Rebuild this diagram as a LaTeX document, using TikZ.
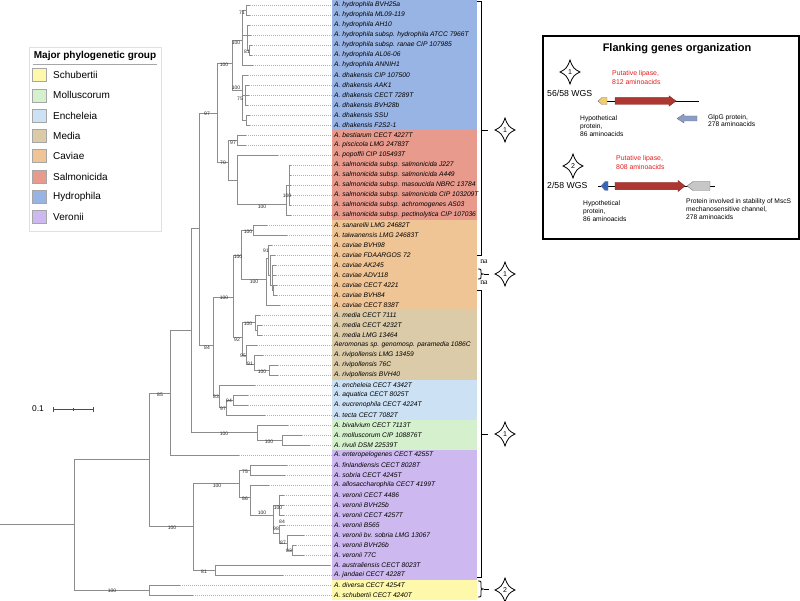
\documentclass[tikz,border=0pt]{standalone}
\usepackage{fontspec}
\setmainfont{Liberation Sans}
\newfontfamily\nafont{Liberation Serif}
\definecolor{hyd}{RGB}{152,180,228}
\definecolor{sal}{RGB}{232,154,140}
\definecolor{cav}{RGB}{240,197,150}
\definecolor{med}{RGB}{219,203,168}
\definecolor{enc}{RGB}{205,225,245}
\definecolor{mol}{RGB}{212,240,204}
\definecolor{ver}{RGB}{205,185,240}
\definecolor{sch}{RGB}{253,248,170}
\definecolor{genred}{RGB}{175,55,50}
\definecolor{genyel}{RGB}{240,205,110}
\definecolor{genglp}{RGB}{140,156,200}
\definecolor{genblu}{RGB}{55,100,190}
\definecolor{txtred}{RGB}{225,30,30}
\tikzset{pics/fourstar/.style={code={
  \draw[line width=0.8pt, fill=white] (0,-12) .. controls (2.5,-4.5) and (4.5,-2.5) .. (10,0) .. controls (4.5,2.5) and (2.5,4.5) .. (0,12) .. controls (-2.5,4.5) and (-4.5,2.5) .. (-10,0) .. controls (-4.5,-2.5) and (-2.5,-4.5) .. cycle;
  \node[font=\fontsize{7}{7}\selectfont, inner sep=0pt] at (0,0) {#1};
}}}
\begin{document}
\begin{tikzpicture}[x=1pt,y=-1pt,
  tree/.style={draw=black!45, line width=0.7pt},
  lead/.style={draw=black!30, line width=0.5pt, dash pattern=on 0.5pt off 1.5pt},
  taxon/.style={anchor=west, inner sep=0pt, font=\fontsize{6.7}{7}\selectfont\itshape},
  bs/.style={inner sep=0pt, font=\fontsize{5}{5}\selectfont, text=black!85},
  brk/.style={draw=black, line width=0.8pt},
  swatch/.style={draw=black!35, minimum width=14pt, minimum height=13pt, inner sep=0pt},
  legtext/.style={anchor=west, inner sep=0pt, font=\fontsize{10}{12}\selectfont},
  boxtxt/.style={anchor=west, align=left, inner sep=0pt, font=\fontsize{6.7}{8}\selectfont},
  redtxt/.style={anchor=west, align=left, inner sep=0pt, text=txtred, font=\fontsize{6.9}{9}\selectfont},
  wgs/.style={anchor=west, inner sep=0pt, font=\fontsize{8.7}{10}\selectfont},
  natxt/.style={inner sep=0pt, font=\nafont\fontsize{7.8}{8}\selectfont},
  gene/.style={line width=0.4pt}
]
\useasboundingbox (0,0) rectangle (800,601);

% ---------- leaf tips ----------
\foreach \x [count=\i from 0] in {250,250,250,251,252,252,253,248,249,249,248,250,250,246,246,278,291,291,291,291,291,291,267,287,272,275,276,276,277,277,280,260,262,262,257,263,278,278,255,248,248,265,288,302,310,239,287,285,269,284,284,284,285,304,296,304,330,283,180,193}
  {\coordinate (L\i) at (\x,{5+10*\i});
   \coordinate (G\i) at (332,{5+10*\i});}

% ---------- internal nodes ----------
\foreach \n/\x/\y in {R0/0/524,R/74/524,A/149/459,S/149/590,B/170/393,V/193/526,C/191/330,D/199/228,M/257/432,E/217/113,F/213/345,Hy/232/63,Sa/228/162,H/242/40,Dh/242/90,Ha/246/10,Hb/247/35,Hc/249/50,Dd/245/95,De/246/120,Sb/237/140,Sc/237/180,Sd/286/204,Se/289/185,G/233/297,En/219/395,Ca/241/255,Me/242/337,Cs/253/230,Cc/266/279,Cv/268/258,Cw/270/275,Cx/272/285,Cy/273/290,Mm/255/322,Mn/257/330,Mr/246/355,Mq/254/364,Mp/269/370,Eb/226/407,Ec/233/400,Mo/282/440,Vb/239/483,Vj/215/570,Vf/250/470,Vg/250/497,Vh/273/515,Vm/279/505,Vn/279/533,Vo/287/543,Vp/292/550}
  \coordinate (\n) at (\x,\y);

% ---------- leader dots ----------
\foreach \i in {0,...,59} \draw[lead] (L\i) -- (G\i);

% ---------- branches ----------
\foreach \p/\c in {R0/R,R/A,R/S,S/L58,S/L59,A/B,A/V,B/C,B/L45,C/D,C/M,D/E,D/F,E/Hy,E/Sa,Hy/H,Hy/Dh,H/Ha,H/Hb,H/L6,Ha/L0,Ha/L1,Hb/L2,Hb/L3,Hb/Hc,Hc/L4,Hc/L5,Dh/L7,Dh/Dd,Dh/De,Dd/L8,Dd/L9,Dd/L10,De/L11,De/L12,Sa/Sb,Sa/Sc,Sb/L13,Sb/L14,Sc/L15,Sc/Sd,Sd/Se,Sd/L21,Se/L16,Se/L17,Se/L18,Se/L19,Se/L20,F/G,F/En,G/Ca,G/Me,Ca/Cs,Ca/Cc,Cs/L22,Cs/L23,Cc/Cv,Cc/L30,Cv/L24,Cv/Cw,Cw/L25,Cw/Cx,Cx/L26,Cx/L27,Cx/Cy,Cy/L28,Cy/L29,Me/Mm,Me/Mr,Mm/L31,Mm/Mn,Mn/L32,Mn/L33,Mr/L34,Mr/Mq,Mq/L35,Mq/Mp,Mp/L36,Mp/L37,En/L38,En/Eb,Eb/Ec,Eb/L41,Ec/L39,Ec/L40,M/L42,M/Mo,Mo/L43,Mo/L44,V/Vb,V/Vj,Vj/L56,Vj/L57,Vb/Vf,Vb/Vg,Vf/L46,Vf/L47,Vg/L48,Vg/Vh,Vh/Vm,Vh/Vn,Vm/L49,Vm/L50,Vm/L51,Vn/L52,Vn/Vo,Vo/L53,Vo/Vp,Vp/L54,Vp/L55}
  \draw[tree] (\p) |- (\c);

% ---------- bootstrap values ----------
\foreach \v/\x/\y [count=\k] in {71/242/13,81/247/52,100/236/43,100/224/65,100/236/88,75/240/99,97/207/114,97/233/143,70/223/163,100/287/196,100/262/207,100/248/232,100/238/257,91/266/251,100/254/282,100/224/298,100/248/324,92/237/340,95/243/356,91/250/364,100/262/372,84/207/348,85/160/395,83/216/397,94/229/401,97/223/409,100/224/434,100/269/442,75/245/472,100/217/486,86/245/499,100/262/513,100/278/508,84/282/522,98/276/529,87/283/543,83/289/551,100/172/528,81/204/572,100/112/591}
  \node[bs] (bs\k) at (\x,\y) {\v};

% ---------- colour bands ----------
\fill[hyd] (332,0) rectangle (477,130);
\fill[sal] (332,130) rectangle (477,220);
\fill[cav] (332,220) rectangle (477,310);
\fill[med] (332,310) rectangle (477,380);
\fill[enc] (332,380) rectangle (477,420);
\fill[mol] (332,420) rectangle (477,450);
\fill[ver] (332,450) rectangle (477,580);
\fill[sch] (332,580) rectangle (477,600);

% ---------- taxa ----------
\foreach \t [count=\i from 0] in {
{A. hydrophila BVH25a},{A. hydrophila ML09-119},{A. hydrophila AH10},{A. hydrophila subsp. hydrophila ATCC 7966T},{A. hydrophila subsp. ranae CIP 107985},{A. hydrophila AL06-06},{A. hydrophila ANNIH1},
{A. dhakensis CIP 107500},{A. dhakensis AAK1},{A. dhakensis CECT 7289T},{A. dhakensis BVH28b},{A. dhakensis SSU},{A. dhakensis F2S2-1},
{A. bestiarum CECT 4227T},{A. piscicola LMG 24783T},{A. popoffii CIP 105493T},{A. salmonicida subsp. salmonicida J227},{A. salmonicida subsp. salmonicida A449},{A. salmonicida subsp. masoucida NBRC 13784},{A. salmonicida subsp. salmonicida CIP 103209T},{A. salmonicida subsp. achromogenes AS03},{A. salmonicida subsp. pectinolytica CIP 107036},
{A. sanarellii LMG 24682T},{A. taiwanensis LMG 24683T},{A. caviae BVH98},{A. caviae FDAARGOS 72},{A. caviae AK245},{A. caviae ADV118},{A. caviae CECT 4221},{A. caviae BVH84},{A. caviae CECT 838T},
{A. media CECT 7111},{A. media CECT 4232T},{A. media LMG 13464},{Aeromonas sp. genomosp. paramedia 1086C},{A. rivipollensis LMG 13459},{A. rivipollensis 76C},{A. rivipollensis BVH40},
{A. encheleia CECT 4342T},{A. aquatica CECT 8025T},{A. eucrenophila CECT 4224T},{A. tecta CECT 7082T},
{A. bivalvium CECT 7113T},{A. molluscorum CIP 108876T},{A. rivuli DSM 22539T},
{A. enteropelogenes CECT 4255T},{A. finlandiensis CECT 8028T},{A. sobria CECT 4245T},{A. allosaccharophila CECT 4199T},{A. veronii CECT 4486},{A. veronii BVH25b},{A. veronii CECT 4257T},{A. veronii B565},{A. veronii bv. sobria LMG 13067},{A. veronii BVH26b},{A. veronii 77C},{A. australiensis CECT 8023T},{A. jandaei CECT 4228T},
{A. diversa CECT 4254T},{A. schubertii CECT 4240T}}
  \node[taxon] (T\i) at (334,{5+10*\i}) {\t};

% ---------- brackets ----------
\draw[brk] (477,1) -- (481,1) -- (481,255) -- (477,255);
\draw[brk] (481,130) -- (488,130);
\node[natxt] (na1) at (484,262) {na};
\draw[brk] (478,269) .. controls (481,269) .. (481,271) -- (481,272.5) .. controls (481,274) .. (484,274) .. controls (481,274) .. (481,275.5) -- (481,277) .. controls (481,279) .. (478,279);
\draw[brk] (484,274) -- (489,274);
\node[natxt] (na2) at (484,283) {na};
\draw[brk] (477,290) -- (481,290) -- (481,577) -- (477,577);
\draw[brk] (481,434) -- (488,434);
\draw[brk] (478,581) .. controls (481,581) .. (481,583) -- (481,587) .. controls (481,589) .. (484,589) .. controls (481,589) .. (481,591) -- (481,595) .. controls (481,597) .. (478,597);
\draw[brk] (484,589) -- (489,589);
\pic at (505,130) {fourstar=1};
\pic at (505,274) {fourstar=1};
\pic at (505,434) {fourstar=1};
\pic at (505,590) {fourstar=2};

% ---------- legend ----------
\draw[black!12] (29,47) rectangle (161,231);
\node[inner sep=0pt, font=\fontsize{10}{12}\selectfont\bfseries] (lgt) at (95,56) {Major phylogenetic group};
\draw[black!35] (33,64) -- (157,64);
\foreach \c/\n [count=\k from 0] in {sch/Schubertii,mol/Molluscorum,enc/Encheleia,med/Media,cav/Caviae,sal/Salmonicida,hyd/Hydrophila,ver/Veronii}
  {\node[swatch, fill=\c] (sw\k) at (39.5,{75+20.3*\k}) {};
   \node[legtext] (lt\k) at (53,{75+20.3*\k}) {\n};}

% ---------- scale bar ----------
\node[inner sep=0pt, font=\fontsize{8.4}{9}\selectfont] (sc) at (38,409) {0.1};
\coordinate (sb1) at (53,409); \coordinate (sb2) at (93,409);
\draw[black!70, line width=0.8pt] (sb1) -- (sb2);
\draw[black!70, line width=0.8pt] (53,406.5) -- (53,411.5) (93,406.5) -- (93,411.5) (73,407.5) -- (73,410.5);

% ---------- flanking genes box ----------
\draw[line width=1.2pt] (543,36) rectangle (799,239);
\node[inner sep=0pt, font=\fontsize{11}{13}\selectfont\bfseries] (ttl) at (677,49) {Flanking genes organization};
\pic at (570,72) {fourstar=1};
\node[wgs] (w1) at (547,93) {56/58 WGS};
\node[redtxt] (r1) at (612,77.5) {Putative lipase,\\812 aminoacids};
\draw[line width=0.6pt] (598,101) -- (699,101);
\filldraw[gene, fill=genyel, draw=black!50] (598,101) -- (602,97.5) -- (607,97.5) -- (607,104.5) -- (602,104.5) -- cycle;
\filldraw[gene, fill=genred, draw=genred!70!black] (615,97.7) -- (669,97.7) -- (669,95.8) -- (676,101) -- (669,106.2) -- (669,104.3) -- (615,104.3) -- cycle;
\filldraw[gene, fill=genglp, draw=black!55] (677,118.5) -- (684,114) -- (684,116) -- (697,116) -- (697,121) -- (684,121) -- (684,123) -- cycle;
\node[boxtxt] (h1) at (580,126) {Hypothetical\\protein,\\86 aminoacids};
\node[boxtxt, font=\fontsize{6.7}{7.5}\selectfont] (g1) at (708,120.5) {GlpG protein,\\278 aminoacids};
\pic at (573,166) {fourstar=2};
\node[wgs] (w2) at (547,185) {2/58 WGS};
\node[redtxt] (r2) at (616,162.5) {Putative lipase,\\808 aminoacids};
\draw[line width=0.6pt] (598,186) -- (715,186);
\filldraw[gene, fill=genblu, draw=black!50] (601,186) -- (605,181.5) -- (608,181.5) -- (608,190.5) -- (605,190.5) -- cycle;
\filldraw[gene, fill=genred, draw=genred!70!black] (615,182.3) -- (678,182.3) -- (678,180.5) -- (685,186) -- (678,191.5) -- (678,189.7) -- (615,189.7) -- cycle;
\filldraw[gene, fill=black!22, draw=black!55] (687,186) -- (693,181.5) -- (710,181.5) -- (710,190.5) -- (693,190.5) -- cycle;
\node[boxtxt] (h2) at (583,211) {Hypothetical\\protein,\\86 aminoacids};
\node[boxtxt] (p2) at (686,209) {Protein involved in stability of MscS\\mechanosensitive channel,\\278 aminoacids};
\end{tikzpicture}
\end{document}
